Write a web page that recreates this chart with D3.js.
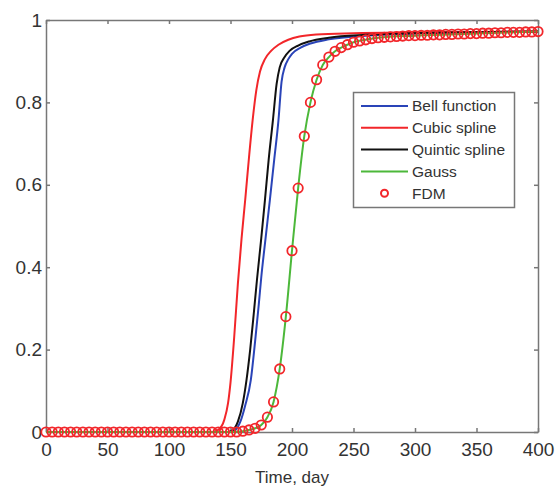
<!DOCTYPE html>
<html>
<head>
<meta charset="utf-8">
<script src="https://cdn.jsdelivr.net/npm/d3@7"></script>
<style>
  body { margin: 0; background: #fff; }
  text { font-family: "Liberation Sans", Arial, sans-serif; fill: #333; }
</style>
</head>
<body>
<svg id="chart" width="557" height="489"></svg>
<script>
// curves: [day, value]
var bellData = [[0,0],[150,0],[154,0.005],[158,0.025],[162,0.065],[166.5,0.126],[170,0.22],[173,0.31],
  [175,0.375],[178.5,0.47],[182,0.563],[185.5,0.66],[189,0.757],[191.5,0.85],[194,0.885],[197,0.905],
  [200,0.918],[207,0.933],[215,0.943],[230,0.953],[260,0.962],[300,0.967],[400,0.972]];
var cubicData = [[0,0],[135,0],[140,0.005],[145,0.03],[148,0.07],[150,0.12],[153,0.23],[156,0.36],
  [159,0.47],[162,0.565],[165,0.665],[168,0.757],[171,0.83],[174,0.875],[178,0.905],[183,0.925],
  [189,0.94],[197,0.952],[206,0.96],[220,0.965],[250,0.968],[300,0.97],[400,0.972]];
var quinticData = [[0,0],[148,0],[152,0.005],[156,0.025],[160,0.07],[163,0.126],[166,0.2],[169,0.29],
  [171.5,0.369],[175,0.47],[178,0.563],[181,0.66],[184.5,0.757],[187.5,0.845],[190,0.885],[194,0.91],
  [198,0.925],[205,0.938],[214,0.948],[230,0.957],[260,0.964],[300,0.968],[400,0.972]];
var gaussData = [[0,0],[150,0],[160,0.002],[165,0.005],[170,0.009],[175,0.017],[180,0.036],[185,0.073],
  [190,0.153],[195,0.28],[200,0.44],[205,0.592],[210,0.718],[215,0.8],[220,0.855],[225,0.891],
  [230,0.91],[235,0.924],[240,0.933],[245,0.94],[250,0.946],[260,0.952],[270,0.957],[300,0.962],
  [350,0.967],[400,0.972]];

// FDM markers, every 5 days (0 .. 400)
var fdmDays = d3.range(0, 401, 5);
var fdmValues = [0,0,0,0,0,0,0,0,0,0, 0,0,0,0,0,0,0,0,0,0, 0,0,0,0,0,0,0,0,0,0,
  0,0,0.002,0.005,0.009, 0.017,0.036,0.073,0.153,0.28, 0.44,0.592,0.718,0.8,0.855,
  0.891,0.91,0.924,0.933,0.94, 0.946,0.949,0.952,0.955,0.957, 0.958,0.959,0.96,0.961,0.962,
  0.962,0.963,0.963,0.964,0.964, 0.965,0.965,0.966,0.966,0.967, 0.967,0.968,0.968,0.969,0.969,
  0.97,0.97,0.97,0.971,0.971, 0.972];

var xTicks = [0, 50, 100, 150, 200, 250, 300, 350, 400];
var yTicks = [0, 0.2, 0.4, 0.6, 0.8, 1];

var series = [
  { name: "Bell function", data: bellData, color: "#2a44b8" },
  { name: "Cubic spline", data: cubicData, color: "#f2262a" },
  { name: "Quintic spline", data: quinticData, color: "#111111" },
  { name: "Gauss", data: gaussData, color: "#4cb83a" }
];

var svg = d3.select("#chart");
var plotLeft = 46, plotRight = 538, plotTop = 20, plotBottom = 432;

var x = d3.scaleLinear().domain([0, 400]).range([plotLeft, plotRight]);
var y = d3.scaleLinear().domain([0, 1]).range([plotBottom, plotTop]);

var axisColor = "#777";

// axes with inward ticks, box closed by top/right axes
var gx = svg.append("g").attr("transform", "translate(0," + plotBottom + ")")
  .call(d3.axisBottom(x).tickValues(xTicks).tickSize(-4).tickSizeOuter(0).tickPadding(11));
var gy = svg.append("g").attr("transform", "translate(" + plotLeft + ",0)")
  .call(d3.axisLeft(y).tickValues(yTicks).tickSize(-4).tickSizeOuter(0).tickPadding(4)
    .tickFormat(function (d) { return d3.format("")(+d.toFixed(1)); }));
var gt = svg.append("g").attr("transform", "translate(0," + plotTop + ")")
  .call(d3.axisTop(x).tickValues(xTicks).tickSize(-4).tickSizeOuter(0).tickFormat(""));
var gr = svg.append("g").attr("transform", "translate(" + plotRight + ",0)")
  .call(d3.axisRight(y).tickValues(yTicks).tickSize(-4).tickSizeOuter(0).tickFormat(""));

[gx, gy, gt, gr].forEach(function (g) {
  g.selectAll("path.domain").attr("stroke", axisColor).attr("stroke-width", 1.5);
  g.selectAll(".tick line").attr("stroke", axisColor).attr("stroke-width", 1.5);
  g.selectAll(".tick text").style("font-size", "19px").attr("fill", "#333");
});

svg.append("text")
  .attr("x", (plotLeft + plotRight) / 2)
  .attr("y", 483)
  .attr("text-anchor", "middle")
  .style("font-size", "17px")
  .text("Time, day");

var line = d3.line()
  .x(function (d) { return x(d[0]); })
  .y(function (d) { return y(d[1]); })
  .curve(d3.curveMonotoneX);

svg.append("g").selectAll("path")
  .data(series)
  .enter().append("path")
  .attr("d", function (d) { return line(d.data); })
  .attr("fill", "none")
  .attr("stroke", function (d) { return d.color; })
  .attr("stroke-width", 2);

svg.append("g").selectAll("circle")
  .data(fdmDays)
  .enter().append("circle")
  .attr("cx", function (d) { return x(d); })
  .attr("cy", function (d, i) { return y(fdmValues[i]); })
  .attr("r", 4.7)
  .attr("fill", "none")
  .attr("stroke", "#f2262a")
  .attr("stroke-width", 1.8);

// legend
var lg = svg.append("g");
lg.append("rect")
  .attr("x", 353.5).attr("y", 92.5)
  .attr("width", 161).attr("height", 115)
  .attr("fill", "#fff")
  .attr("stroke", axisColor)
  .attr("stroke-width", 1.5);

var items = series.concat([{ name: "FDM", color: "#f2262a", marker: true }]);
var rows = lg.selectAll("g.item")
  .data(items)
  .enter().append("g")
  .attr("transform", function (d, i) { return "translate(0," + (106 + i * 21.8) + ")"; });

rows.filter(function (d) { return !d.marker; }).append("line")
  .attr("x1", 361).attr("x2", 408)
  .attr("stroke", function (d) { return d.color; })
  .attr("stroke-width", 2);
rows.filter(function (d) { return d.marker; }).append("circle")
  .attr("cx", 384.5).attr("r", 3.5)
  .attr("fill", "none")
  .attr("stroke", function (d) { return d.color; })
  .attr("stroke-width", 2);
rows.append("text")
  .attr("x", 412)
  .attr("dy", "0.35em")
  .style("font-size", "15.5px")
  .text(function (d) { return d.name; });
</script>
</body>
</html>
